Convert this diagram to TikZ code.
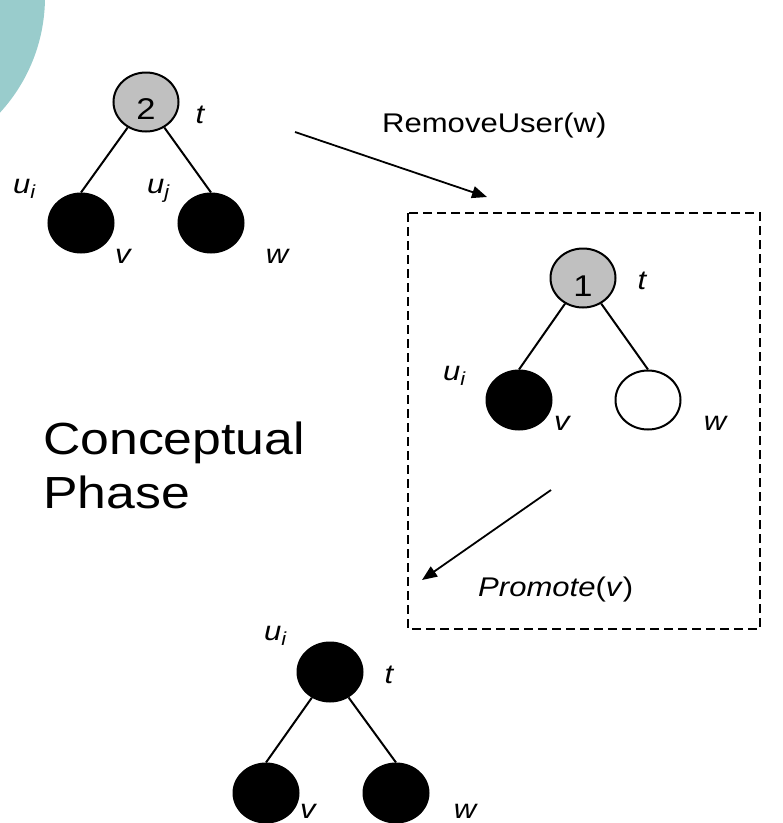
\documentclass[tikz,border=0pt]{standalone}
\usepackage{fontspec}
\setmainfont{Liberation Sans}[FakeStretch=1.15]
\usetikzlibrary{arrows.meta,positioning,calc,shapes.geometric}
\definecolor{tealbg}{RGB}{153,204,204}
\definecolor{rootgray}{RGB}{192,192,192}
\tikzset{
  vtx/.style      = {draw, ellipse, line width=2pt, inner sep=0pt,
                     minimum width=65pt, minimum height=59pt},
  grayvtx/.style  = {vtx, fill=rootgray},
  blackvtx/.style = {vtx, fill=black},
  whitevtx/.style = {vtx, fill=white},
  link/.style     = {line width=2pt},
  lbl/.style      = {font=\fontsize{27}{32}\selectfont\itshape, inner sep=0pt, anchor=base},
  lblw/.style     = {lbl, anchor=base west},
  num/.style      = {font=\fontsize{30}{32}\selectfont, inner sep=0pt},
  op/.style       = {font=\fontsize{27}{32}\selectfont, inner sep=0pt, anchor=base west},
  heading/.style  = {font=\fontsize{45}{54}\selectfont, inner sep=0pt, align=left,
                     anchor=north west},
  wire/.style     = {-{Triangle[length=15pt,width=12pt]}, line width=1.8pt},
  frame/.style    = {draw, line width=1.6pt, dash pattern=on 9pt off 5pt}
}

\begin{document}
\begin{tikzpicture}[x=1pt,y=-1pt]
\useasboundingbox (0,0) rectangle (783,823);

% --- corner decoration ---
\fill[tealbg] (-126,-3) circle[radius=171];

% --- tree before removal ---
\node[grayvtx, label={[num,yshift=-7pt]center:2}] (r1) at (146,102) {};
\node[blackvtx] (v1) at (81,223) {};
\node[blackvtx] (w1) at (211,223) {};
\draw[link] (r1) -- (v1.north);
\draw[link] (r1) -- (w1.north);
\node[lbl]  at ($(r1)+(54,21)$) {t};
\node[lblw] at ($(v1)+(-68,-30)$) {u\textsubscript{i}};
\node[lblw] at ($(w1)+(-64,-30)$) {u\textsubscript{j}};
\node[lbl]  at ($(v1)+(42,40)$) {v};
\node[lbl]  at ($(w1)+(66,40)$) {w};

% --- RemoveUser step ---
\coordinate (rmS) at (295,132);
\coordinate (rmE) at (487,197);
\draw[wire] (rmS) -- (rmE);
\node[op] (rmlbl) at (382,132) {RemoveUser(w)};

% --- dashed frame with intermediate tree ---
\draw[frame] (408,213) rectangle (760,629);
\node[grayvtx, label={[num,yshift=-8pt]center:1}] (r2) at (583,278) {};
\node[blackvtx] (v2) at (519,400) {};
\node[whitevtx] (w2) at (648,400) {};
\draw[link] (r2) -- (v2.north);
\draw[link] (r2) -- (w2.north);
\node[lbl]  at ($(r2)+(59,11)$) {t};
\node[lblw] at ($(v2)+(-76,-20)$) {u\textsubscript{i}};
\node[lbl]  at ($(v2)+(43,30)$) {v};
\node[lbl]  at ($(w2)+(67,30)$) {w};

% --- Promote step ---
\coordinate (prS) at (551,490);
\coordinate (prE) at (422,580);
\draw[wire] (prS) -- (prE);
\node[op] (prlbl) at (478,596) {\textit{Promote}(\textit{v})};

\node[heading] (phase) at (43,422) {Conceptual\\Phase};

% --- tree after promotion ---
\node[blackvtx] (r3) at (330,672) {};
\node[blackvtx] (v3) at (266,793) {};
\node[blackvtx] (w3) at (396,793) {};
\draw[link] (r3) -- (v3.north);
\draw[link] (r3) -- (w3.north);
\node[lblw] at ($(r3)+(-66,-32)$) {u\textsubscript{i}};
\node[lbl]  at ($(r3)+(59,11)$) {t};
\node[lbl]  at ($(v3)+(42,25)$) {v};
\node[lbl]  at ($(w3)+(69,25)$) {w};

\end{tikzpicture}
\end{document}
